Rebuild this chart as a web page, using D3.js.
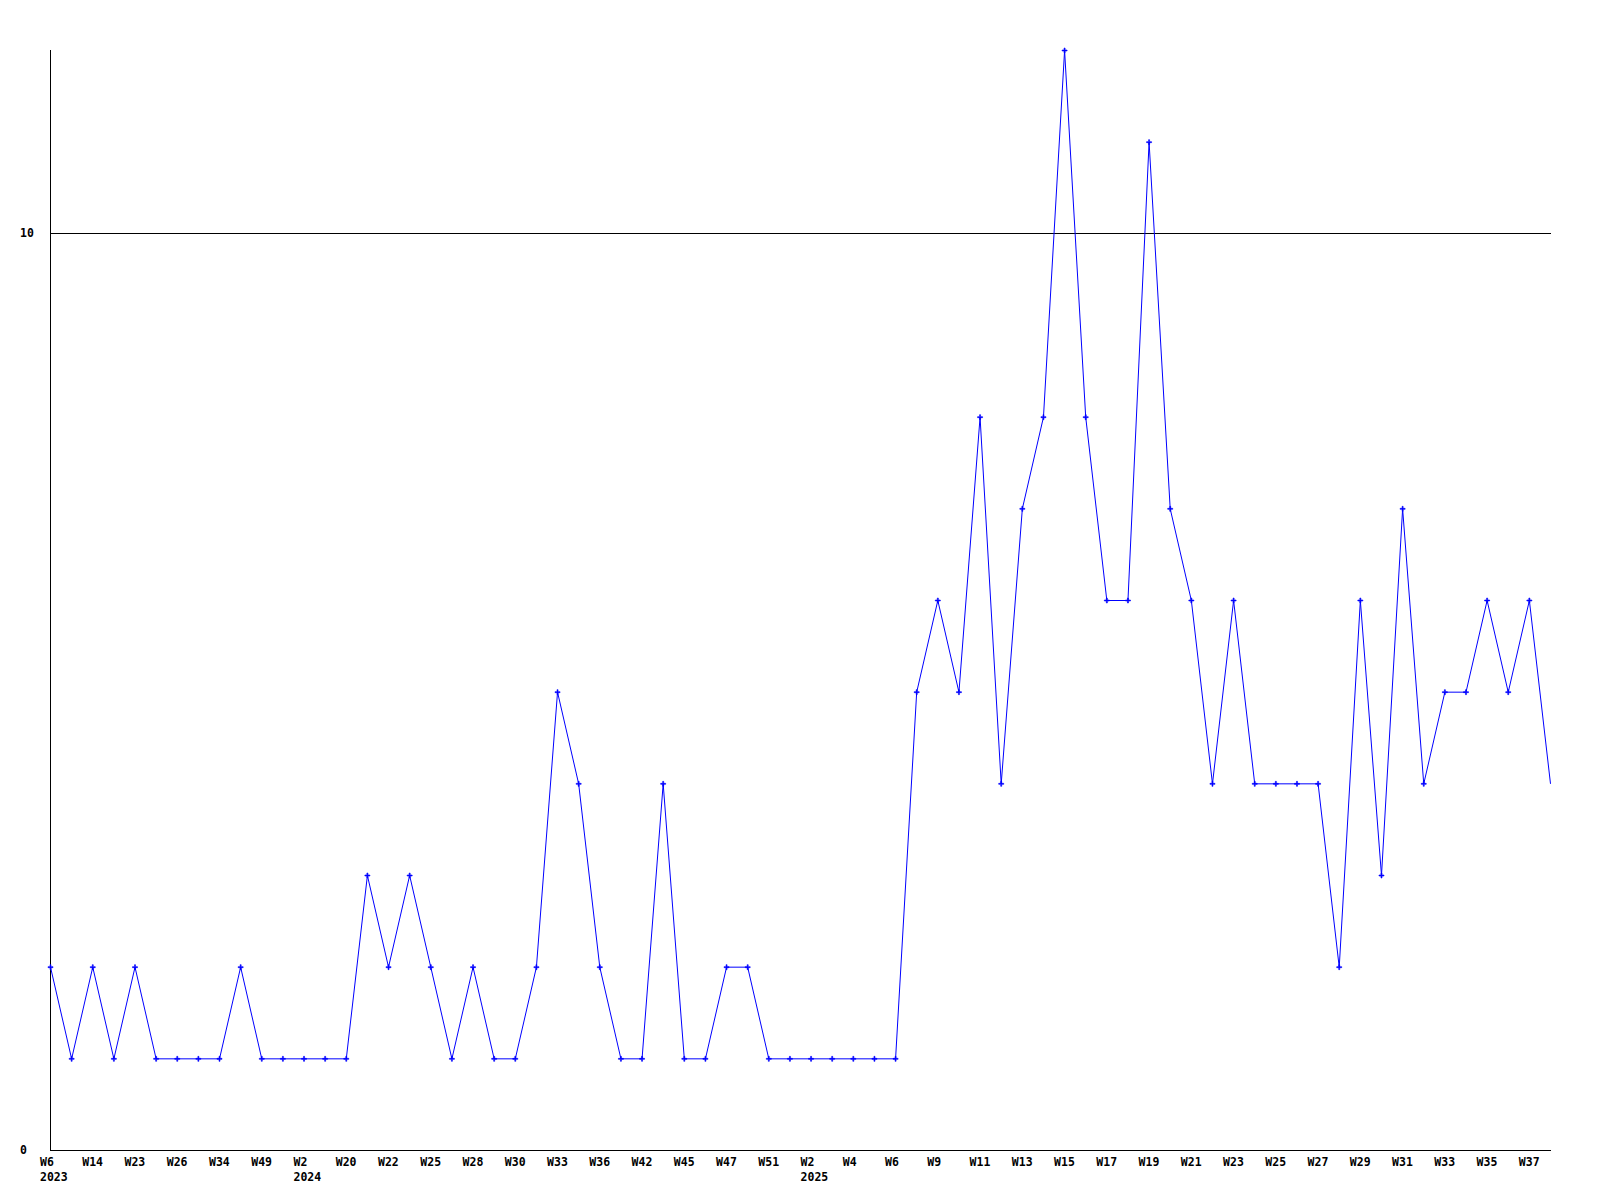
<!DOCTYPE html>
<html>
<head>
<meta charset="utf-8">
<script src="https://cdn.jsdelivr.net/npm/d3@7"></script>
<style>
  body { margin: 0; background: #fff; }
  text { font-family: "DejaVu Sans Mono", "Liberation Mono", monospace; font-weight: bold; font-size: 11.5px; fill: #000; }
</style>
</head>
<body>
<div id="chart"></div>
<script>
// weekly counts, 72 weeks (W6 2023 .. W38 2025)
const counts = [2, 1, 2, 1, 2, 1, 1, 1, 1, 2, 1, 1, 1, 1, 1, 3, 2, 3, 2, 1,
                2, 1, 1, 2, 5, 4, 2, 1, 1, 4, 1, 1, 2, 2, 1, 1, 1, 1, 1, 1,
                1, 5, 6, 5, 8, 4, 7, 8, 12, 8, 6, 6, 11, 7, 6, 4, 6, 4, 4, 4,
                4, 2, 6, 3, 7, 4, 5, 5, 6, 5, 6, 4];

// labels shown on every second week
const weekLabels = ["W6", "W14", "W23", "W26", "W34", "W49", "W2", "W20", "W22", "W25",
                    "W28", "W30", "W33", "W36", "W42", "W45", "W47", "W51", "W2", "W4",
                    "W6", "W9", "W11", "W13", "W15", "W17", "W19", "W21", "W23", "W25",
                    "W27", "W29", "W31", "W33", "W35", "W37"];
const yearLabels = [{ label: "2023", at: 0 }, { label: "2024", at: 12 }, { label: "2025", at: 36 }];

const yTicks = [0, 10];

const width = 1600, height = 1200;
const mLeft = 50, mRight = 1550, mTop = 50, mBottom = 1150;

const svg = d3.select("#chart").append("svg")
    .attr("width", width)
    .attr("height", height);

const x = d3.scaleLinear().domain([0, counts.length - 1]).range([mLeft, mRight]);
const y = d3.scaleLinear().domain([0, 12]).range([mBottom, mTop]);

// grid line at 10 + axes
svg.append("line")
    .attr("x1", mLeft).attr("x2", mRight + 1)
    .attr("y1", y(10) + 0.5).attr("y2", y(10) + 0.5)
    .attr("stroke", "#000").attr("shape-rendering", "crispEdges");

svg.append("line")
    .attr("x1", mLeft + 0.5).attr("x2", mLeft + 0.5)
    .attr("y1", mTop).attr("y2", mBottom + 1)
    .attr("stroke", "#000").attr("shape-rendering", "crispEdges");

svg.append("line")
    .attr("x1", mLeft).attr("x2", mRight + 1)
    .attr("y1", mBottom + 0.5).attr("y2", mBottom + 0.5)
    .attr("stroke", "#000").attr("shape-rendering", "crispEdges");

// y labels
svg.selectAll(".ylab")
    .data(yTicks)
    .join("text")
    .attr("class", "ylab")
    .attr("x", 20)
    .attr("y", d => y(d) + 4)
    .text(d => d);

// x labels
svg.selectAll(".xlab")
    .data(weekLabels)
    .join("text")
    .attr("class", "xlab")
    .attr("x", (d, i) => x(i * 2) - 10)
    .attr("y", mBottom + 16)
    .text(d => d);

svg.selectAll(".year")
    .data(yearLabels)
    .join("text")
    .attr("class", "year")
    .attr("x", d => x(d.at) - 10)
    .attr("y", mBottom + 31)
    .text(d => d.label);

// the line
const line = d3.line()
    .x((d, i) => x(i) + 0.5)
    .y(d => y(d) + 0.5);

svg.append("path")
    .datum(counts)
    .attr("d", line)
    .attr("fill", "none")
    .attr("stroke", "#0000ff")
    .attr("stroke-width", 1);

// markers (last, still running week has none)
svg.selectAll(".mark")
    .data(counts.slice(0, -1))
    .join("path")
    .attr("class", "mark")
    .attr("transform", (d, i) => `translate(${x(i) + 0.5},${y(d) + 0.5})`)
    .attr("d", "M-0.5,-2.5H0.5V-0.5H2.5V0.5H0.5V2.5H-0.5V0.5H-2.5V-0.5H-0.5Z")
    .attr("fill", "#0000ff")
    .attr("stroke", "#0000ff")
    .attr("stroke-width", 0.6);
</script>
</body>
</html>
